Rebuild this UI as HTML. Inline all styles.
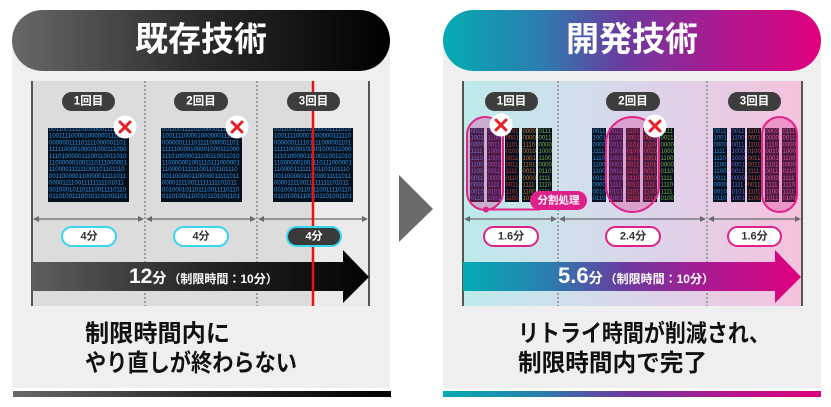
<!DOCTYPE html>
<html><head><meta charset="utf-8">
<style>
html,body{margin:0;padding:0;background:#fff;}
svg{display:block;}
text{font-family:"Liberation Sans","Noto Sans CJK JP",sans-serif;font-weight:bold;}
.bin{font-family:"Liberation Sans",sans-serif;font-weight:normal;font-size:6px;}
</style></head>
<body>
<svg width="831" height="407" viewBox="0 0 831 407" xmlns="http://www.w3.org/2000/svg">
<defs>
<linearGradient id="gDark" x1="0" x2="1" y1="0" y2="0">
<stop offset="0" stop-color="#686868"/><stop offset="0.5" stop-color="#2a2a2a"/><stop offset="1" stop-color="#000"/>
</linearGradient>
<linearGradient id="gArrowL" x1="0" x2="1" y1="0" y2="0">
<stop offset="0" stop-color="#5e5e5e"/><stop offset="0.5" stop-color="#262626"/><stop offset="1" stop-color="#030303"/>
</linearGradient>
<linearGradient id="gColor" x1="0" x2="1" y1="0" y2="0">
<stop offset="0" stop-color="#03abb3"/><stop offset="0.25" stop-color="#2a7fb0"/><stop offset="0.48" stop-color="#6c3a9f"/><stop offset="0.75" stop-color="#b0178f"/><stop offset="1" stop-color="#e0007e"/>
</linearGradient>
<linearGradient id="gInnerR" x1="0" x2="1" y1="0" y2="0">
<stop offset="0" stop-color="#bdeaea"/><stop offset="0.3" stop-color="#cfe0ea"/><stop offset="0.55" stop-color="#dcd3ea"/><stop offset="1" stop-color="#f6c2dd"/>
</linearGradient>
<clipPath id="c1"><rect x="48" y="128" width="81" height="74"/></clipPath>
<clipPath id="c2"><rect x="161" y="128" width="81" height="74"/></clipPath>
<clipPath id="c3"><rect x="273" y="128" width="80" height="74"/></clipPath>
</defs>

<!-- LEFT PANEL -->
<rect x="12" y="40" width="378" height="348" fill="#efefef"/>
<rect x="12" y="10" width="378" height="61" rx="30.5" fill="url(#gDark)"/>
<text x="201" y="40" font-size="34" fill="#fff" text-anchor="middle" dominant-baseline="central" textLength="132" lengthAdjust="spacingAndGlyphs">既存技術</text>

<rect x="32" y="81" width="337" height="225" fill="#dcdcdc"/>
<rect x="314" y="81" width="55" height="225" fill="#ebebeb"/>
<line x1="145" y1="81" x2="145" y2="306" stroke="#8a8a8a" stroke-width="1.5" stroke-dasharray="2 2"/>
<line x1="257" y1="81" x2="257" y2="306" stroke="#8a8a8a" stroke-width="1.5" stroke-dasharray="2 2"/>
<line x1="32" y1="81" x2="32" y2="306" stroke="#555" stroke-width="2"/>
<line x1="369" y1="81" x2="369" y2="306" stroke="#555" stroke-width="2"/>

<!-- labels -->
<rect x="62" y="92" width="53" height="19" rx="9.5" fill="#3d3d3d"/>
<text x="88.5" y="101.5" font-size="11.5" fill="#fff" text-anchor="middle" dominant-baseline="central">1回目</text>
<rect x="174" y="92" width="54" height="19" rx="9.5" fill="#3d3d3d"/>
<text x="201" y="101.5" font-size="11.5" fill="#fff" text-anchor="middle" dominant-baseline="central">2回目</text>

<!-- binary blocks -->
<g clip-path="url(#c1)">
<rect x="48" y="128" width="81" height="74" fill="#06101e"/>
<text class="bin" fill="#2b95e6">
<tspan x="49" y="131">001100111101000001111010</tspan>
<tspan x="49" y="137.7">100111100001000000111110</tspan>
<tspan x="49" y="144.4">000000111101111000001101</tspan>
<tspan x="49" y="151.1">111110000100001000111000</tspan>
<tspan x="49" y="157.8">111010000011100110011010</tspan>
<tspan x="49" y="164.5">110000001001110111000001</tspan>
<tspan x="49" y="171.2">110000111111001101101110</tspan>
<tspan x="49" y="177.9">001100000110000011111011</tspan>
<tspan x="49" y="184.6">000011110011111111101011</tspan>
<tspan x="49" y="191.3">001000101101110011110110</tspan>
<tspan x="49" y="198">011010011100101101001101</tspan>
</text>
</g>
<g clip-path="url(#c2)">
<rect x="161" y="128" width="81" height="74" fill="#06101e"/>
<text class="bin" fill="#2b95e6">
<tspan x="162" y="131">001100111101000001111010</tspan>
<tspan x="162" y="137.7">100111100001000000111110</tspan>
<tspan x="162" y="144.4">000000111101111000001101</tspan>
<tspan x="162" y="151.1">111110000100001000111000</tspan>
<tspan x="162" y="157.8">111010000011100110011010</tspan>
<tspan x="162" y="164.5">110000001001110111000001</tspan>
<tspan x="162" y="171.2">110000111111001101101110</tspan>
<tspan x="162" y="177.9">001100000110000011111011</tspan>
<tspan x="162" y="184.6">000011110011111111101011</tspan>
<tspan x="162" y="191.3">001000101101110011110110</tspan>
<tspan x="162" y="198">011010011100101101001101</tspan>
</text>
</g>
<g clip-path="url(#c3)">
<rect x="273" y="128" width="80" height="74" fill="#06101e"/>
<text class="bin" fill="#2b95e6">
<tspan x="274" y="131">001100111101000001111010</tspan>
<tspan x="274" y="137.7">100111100001000000111110</tspan>
<tspan x="274" y="144.4">000000111101111000001101</tspan>
<tspan x="274" y="151.1">111110000100001000111000</tspan>
<tspan x="274" y="157.8">111010000011100110011010</tspan>
<tspan x="274" y="164.5">110000001001110111000001</tspan>
<tspan x="274" y="171.2">110000111111001101101110</tspan>
<tspan x="274" y="177.9">001100000110000011111011</tspan>
<tspan x="274" y="184.6">000011110011111111101011</tspan>
<tspan x="274" y="191.3">001000101101110011110110</tspan>
<tspan x="274" y="198">011010011100101101001101</tspan>
</text>
</g>

<!-- X marks left -->
<circle cx="125" cy="127" r="11.5" fill="#fff"/>
<path d="M120 122 L130 132 M130 122 L120 132" stroke="#e8202a" stroke-width="3" stroke-linecap="round"/>
<circle cx="237" cy="127" r="11.5" fill="#fff"/>
<path d="M232 122 L242 132 M242 122 L232 132" stroke="#e8202a" stroke-width="3" stroke-linecap="round"/>

<!-- dimension arrows left -->
<g stroke="#6a6a6a" stroke-width="1.3" fill="#6a6a6a">
<line x1="36" y1="219" x2="141" y2="219"/>
<polygon points="33,219 39,216 39,222" stroke="none"/>
<polygon points="144,219 138,216 138,222" stroke="none"/>
<line x1="149" y1="219" x2="253" y2="219"/>
<polygon points="146,219 152,216 152,222" stroke="none"/>
<polygon points="256,219 250,216 250,222" stroke="none"/>
<line x1="261" y1="219" x2="365" y2="219"/>
<polygon points="258,219 264,216 264,222" stroke="none"/>
<polygon points="368,219 362,216 362,222" stroke="none"/>
</g>

<!-- big arrow left -->
<polygon points="32,262 343,262 343,250 369,277 343,303 343,291 32,291" fill="url(#gArrowL)"/>

<!-- red line -->
<line x1="313" y1="81" x2="313" y2="306" stroke="#e41414" stroke-width="2.5"/>

<rect x="287" y="92" width="53" height="19" rx="9.5" fill="#3d3d3d"/>
<text x="313.5" y="101.5" font-size="11.5" fill="#fff" text-anchor="middle" dominant-baseline="central">3回目</text>

<!-- time pills left -->
<rect x="62" y="227" width="54" height="19" rx="9.5" fill="#fff" stroke="#35d6ee" stroke-width="2"/>
<text x="89" y="236.5" font-size="11" fill="#333" text-anchor="middle" dominant-baseline="central">4分</text>
<rect x="174" y="227" width="54" height="19" rx="9.5" fill="#fff" stroke="#35d6ee" stroke-width="2"/>
<text x="201" y="236.5" font-size="11" fill="#333" text-anchor="middle" dominant-baseline="central">4分</text>
<rect x="287" y="227" width="54" height="19" rx="9.5" fill="#3a3a3a" stroke="#35d6ee" stroke-width="2"/>
<text x="314" y="236.5" font-size="11" fill="#fff" text-anchor="middle" dominant-baseline="central">4分</text>

<text x="129" y="283" fill="#fff"><tspan font-size="21">12</tspan><tspan font-size="14">分</tspan><tspan font-size="12" dx="2">（制限時間：10分）</tspan></text>

<text x="85" y="341.5" font-size="24" fill="#111" textLength="145" lengthAdjust="spacingAndGlyphs">制限時間内に</text>
<text x="85" y="371" font-size="24" fill="#111" textLength="212" lengthAdjust="spacingAndGlyphs">やり直しが終わらない</text>

<rect x="13" y="391" width="378" height="6" fill="url(#gDark)"/>

<!-- center triangle -->
<polygon points="399,175 433,209 399,242" fill="#6b6b6b"/>

<!-- RIGHT PANEL -->
<rect x="443" y="40" width="378" height="348" fill="#efefef"/>
<rect x="443" y="10" width="378" height="61" rx="30.5" fill="url(#gColor)"/>
<text x="632" y="40" font-size="34" fill="#fff" text-anchor="middle" dominant-baseline="central" textLength="132" lengthAdjust="spacingAndGlyphs">開発技術</text>

<rect x="463" y="81" width="339" height="225" fill="url(#gInnerR)"/>
<line x1="558" y1="81" x2="558" y2="306" stroke="#8a8a8a" stroke-width="1.5" stroke-dasharray="2 2"/>
<line x1="707" y1="81" x2="707" y2="306" stroke="#8a8a8a" stroke-width="1.5" stroke-dasharray="2 2"/>
<line x1="463" y1="81" x2="463" y2="306" stroke="#555" stroke-width="2"/>
<line x1="802" y1="81" x2="802" y2="306" stroke="#555" stroke-width="2"/>

<rect x="485" y="92" width="53" height="19" rx="9.5" fill="#3d3d3d"/>
<text x="511.5" y="101.5" font-size="11.5" fill="#fff" text-anchor="middle" dominant-baseline="central">1回目</text>
<rect x="606" y="92" width="54" height="19" rx="9.5" fill="#3d3d3d"/>
<text x="633" y="101.5" font-size="11.5" fill="#fff" text-anchor="middle" dominant-baseline="central">2回目</text>
<rect x="728" y="92" width="53" height="19" rx="9.5" fill="#3d3d3d"/>
<text x="754.5" y="101.5" font-size="11.5" fill="#fff" text-anchor="middle" dominant-baseline="central">3回目</text>

<!-- columns seg1 -->
<g>
<rect x="470" y="128" width="14" height="74" fill="#06101e"/>
<rect x="487" y="128" width="14" height="74" fill="#06101e"/>
<rect x="505" y="128" width="14" height="74" fill="#06101e"/>
<rect x="522" y="128" width="14" height="74" fill="#06101e"/>
<rect x="538" y="128" width="14" height="74" fill="#06101e"/>
<rect x="592" y="128" width="14" height="74" fill="#06101e"/>
<rect x="609" y="128" width="14" height="74" fill="#06101e"/>
<rect x="626" y="128" width="14" height="74" fill="#06101e"/>
<rect x="643" y="128" width="14" height="74" fill="#06101e"/>
<rect x="660" y="128" width="14" height="74" fill="#06101e"/>
<rect x="713" y="128" width="14" height="74" fill="#06101e"/>
<rect x="731" y="128" width="14" height="74" fill="#06101e"/>
<rect x="747" y="128" width="14" height="74" fill="#06101e"/>
<rect x="765" y="128" width="14" height="74" fill="#06101e"/>
<rect x="782" y="128" width="14" height="74" fill="#06101e"/>
</g>
<text class="bin" fill="#2f8fe0"><tspan x="470.5" y="133">0011</tspan><tspan x="470.5" y="139.7">1001</tspan><tspan x="470.5" y="146.4">0000</tspan><tspan x="470.5" y="153.1">1111</tspan><tspan x="470.5" y="159.8">1110</tspan><tspan x="470.5" y="166.5">1100</tspan><tspan x="470.5" y="173.2">1100</tspan><tspan x="470.5" y="179.9">0011</tspan><tspan x="470.5" y="186.6">0000</tspan><tspan x="470.5" y="193.3">0010</tspan><tspan x="470.5" y="200">0110</tspan></text>
<text class="bin" fill="#7a52c8"><tspan x="487.5" y="133">0011</tspan><tspan x="487.5" y="139.7">1100</tspan><tspan x="487.5" y="146.4">0011</tspan><tspan x="487.5" y="153.1">1000</tspan><tspan x="487.5" y="159.8">1000</tspan><tspan x="487.5" y="166.5">0001</tspan><tspan x="487.5" y="173.2">0011</tspan><tspan x="487.5" y="179.9">0000</tspan><tspan x="487.5" y="186.6">1111</tspan><tspan x="487.5" y="193.3">0101</tspan><tspan x="487.5" y="200">1001</tspan></text>
<text class="bin" fill="#c43a2a"><tspan x="505.5" y="133">1101</tspan><tspan x="505.5" y="139.7">0001</tspan><tspan x="505.5" y="146.4">1101</tspan><tspan x="505.5" y="153.1">0100</tspan><tspan x="505.5" y="159.8">0011</tspan><tspan x="505.5" y="166.5">0011</tspan><tspan x="505.5" y="173.2">1111</tspan><tspan x="505.5" y="179.9">0110</tspan><tspan x="505.5" y="186.6">0011</tspan><tspan x="505.5" y="193.3">1101</tspan><tspan x="505.5" y="200">1100</tspan></text>
<text class="bin" fill="#c87a2a"><tspan x="522.5" y="133">0000</tspan><tspan x="522.5" y="139.7">0000</tspan><tspan x="522.5" y="146.4">1110</tspan><tspan x="522.5" y="153.1">0010</tspan><tspan x="522.5" y="159.8">1001</tspan><tspan x="522.5" y="166.5">1101</tspan><tspan x="522.5" y="173.2">0011</tspan><tspan x="522.5" y="179.9">0000</tspan><tspan x="522.5" y="186.6">1111</tspan><tspan x="522.5" y="193.3">1100</tspan><tspan x="522.5" y="200">1011</tspan></text>
<text class="bin" fill="#7ab040"><tspan x="538.5" y="133">0111</tspan><tspan x="538.5" y="139.7">0011</tspan><tspan x="538.5" y="146.4">0000</tspan><tspan x="538.5" y="153.1">1000</tspan><tspan x="538.5" y="159.8">1100</tspan><tspan x="538.5" y="166.5">0000</tspan><tspan x="538.5" y="173.2">0110</tspan><tspan x="538.5" y="179.9">1111</tspan><tspan x="538.5" y="186.6">1110</tspan><tspan x="538.5" y="193.3">1111</tspan><tspan x="538.5" y="200">0100</tspan></text>

<text class="bin" fill="#2f8fe0"><tspan x="592.5" y="133">0011</tspan><tspan x="592.5" y="139.7">1001</tspan><tspan x="592.5" y="146.4">0000</tspan><tspan x="592.5" y="153.1">1111</tspan><tspan x="592.5" y="159.8">1110</tspan><tspan x="592.5" y="166.5">1100</tspan><tspan x="592.5" y="173.2">1100</tspan><tspan x="592.5" y="179.9">0011</tspan><tspan x="592.5" y="186.6">0000</tspan><tspan x="592.5" y="193.3">0010</tspan><tspan x="592.5" y="200">0110</tspan></text>
<text class="bin" fill="#7a52c8"><tspan x="609.5" y="133">0011</tspan><tspan x="609.5" y="139.7">1100</tspan><tspan x="609.5" y="146.4">0011</tspan><tspan x="609.5" y="153.1">1000</tspan><tspan x="609.5" y="159.8">1000</tspan><tspan x="609.5" y="166.5">0001</tspan><tspan x="609.5" y="173.2">0011</tspan><tspan x="609.5" y="179.9">0000</tspan><tspan x="609.5" y="186.6">1111</tspan><tspan x="609.5" y="193.3">0101</tspan><tspan x="609.5" y="200">1001</tspan></text>
<text class="bin" fill="#c43a2a"><tspan x="626.5" y="133">1101</tspan><tspan x="626.5" y="139.7">0001</tspan><tspan x="626.5" y="146.4">1101</tspan><tspan x="626.5" y="153.1">0100</tspan><tspan x="626.5" y="159.8">0011</tspan><tspan x="626.5" y="166.5">0011</tspan><tspan x="626.5" y="173.2">1111</tspan><tspan x="626.5" y="179.9">0110</tspan><tspan x="626.5" y="186.6">0011</tspan><tspan x="626.5" y="193.3">1101</tspan><tspan x="626.5" y="200">1100</tspan></text>
<text class="bin" fill="#c8502a"><tspan x="643.5" y="133">0000</tspan><tspan x="643.5" y="139.7">0000</tspan><tspan x="643.5" y="146.4">1110</tspan><tspan x="643.5" y="153.1">0010</tspan><tspan x="643.5" y="159.8">1001</tspan><tspan x="643.5" y="166.5">1101</tspan><tspan x="643.5" y="173.2">0011</tspan><tspan x="643.5" y="179.9">0000</tspan><tspan x="643.5" y="186.6">1111</tspan><tspan x="643.5" y="193.3">1100</tspan><tspan x="643.5" y="200">1011</tspan></text>
<text class="bin" fill="#7ab040"><tspan x="660.5" y="133">0111</tspan><tspan x="660.5" y="139.7">0011</tspan><tspan x="660.5" y="146.4">0000</tspan><tspan x="660.5" y="153.1">1000</tspan><tspan x="660.5" y="159.8">1100</tspan><tspan x="660.5" y="166.5">0000</tspan><tspan x="660.5" y="173.2">0110</tspan><tspan x="660.5" y="179.9">1111</tspan><tspan x="660.5" y="186.6">1110</tspan><tspan x="660.5" y="193.3">1111</tspan><tspan x="660.5" y="200">0100</tspan></text>

<text class="bin" fill="#2f8fe0"><tspan x="713.5" y="133">0011</tspan><tspan x="713.5" y="139.7">1001</tspan><tspan x="713.5" y="146.4">0000</tspan><tspan x="713.5" y="153.1">1111</tspan><tspan x="713.5" y="159.8">1110</tspan><tspan x="713.5" y="166.5">1100</tspan><tspan x="713.5" y="173.2">1100</tspan><tspan x="713.5" y="179.9">0011</tspan><tspan x="713.5" y="186.6">0000</tspan><tspan x="713.5" y="193.3">0010</tspan><tspan x="713.5" y="200">0110</tspan></text>
<text class="bin" fill="#6a62d0"><tspan x="731.5" y="133">0011</tspan><tspan x="731.5" y="139.7">1100</tspan><tspan x="731.5" y="146.4">0011</tspan><tspan x="731.5" y="153.1">1000</tspan><tspan x="731.5" y="159.8">1000</tspan><tspan x="731.5" y="166.5">0001</tspan><tspan x="731.5" y="173.2">0011</tspan><tspan x="731.5" y="179.9">0000</tspan><tspan x="731.5" y="186.6">1111</tspan><tspan x="731.5" y="193.3">0101</tspan><tspan x="731.5" y="200">1001</tspan></text>
<text class="bin" fill="#c44a3a"><tspan x="747.5" y="133">1101</tspan><tspan x="747.5" y="139.7">0001</tspan><tspan x="747.5" y="146.4">1101</tspan><tspan x="747.5" y="153.1">0100</tspan><tspan x="747.5" y="159.8">0011</tspan><tspan x="747.5" y="166.5">0011</tspan><tspan x="747.5" y="173.2">1111</tspan><tspan x="747.5" y="179.9">0110</tspan><tspan x="747.5" y="186.6">0011</tspan><tspan x="747.5" y="193.3">1101</tspan><tspan x="747.5" y="200">1100</tspan></text>
<text class="bin" fill="#d8608a"><tspan x="765.5" y="133">0000</tspan><tspan x="765.5" y="139.7">0000</tspan><tspan x="765.5" y="146.4">1110</tspan><tspan x="765.5" y="153.1">0010</tspan><tspan x="765.5" y="159.8">1001</tspan><tspan x="765.5" y="166.5">1101</tspan><tspan x="765.5" y="173.2">0011</tspan><tspan x="765.5" y="179.9">0000</tspan><tspan x="765.5" y="186.6">1111</tspan><tspan x="765.5" y="193.3">1100</tspan><tspan x="765.5" y="200">1011</tspan></text>
<text class="bin" fill="#d8608a"><tspan x="782.5" y="133">0111</tspan><tspan x="782.5" y="139.7">0011</tspan><tspan x="782.5" y="146.4">0000</tspan><tspan x="782.5" y="153.1">1000</tspan><tspan x="782.5" y="159.8">1100</tspan><tspan x="782.5" y="166.5">0000</tspan><tspan x="782.5" y="173.2">0110</tspan><tspan x="782.5" y="179.9">1111</tspan><tspan x="782.5" y="186.6">1110</tspan><tspan x="782.5" y="193.3">1111</tspan><tspan x="782.5" y="200">0100</tspan></text>

<!-- pink overlays -->
<rect x="467" y="117" width="36" height="93" rx="18" fill="rgba(225,50,150,0.32)" stroke="#e0248a" stroke-width="2"/>
<rect x="606" y="117" width="53" height="95" rx="26.5" fill="rgba(225,50,150,0.32)" stroke="#e0248a" stroke-width="2"/>
<rect x="762" y="117" width="35" height="95" rx="17.5" fill="rgba(225,50,150,0.32)" stroke="#e0248a" stroke-width="2"/>

<!-- 分割処理 -->
<line x1="486" y1="209.5" x2="540" y2="209.5" stroke="#e0248a" stroke-width="2"/>
<circle cx="486" cy="209.5" r="3" fill="#e0248a"/>
<rect x="530" y="191" width="57" height="19" rx="9.5" fill="#e0208a"/>
<text x="558.5" y="200.5" font-size="10.5" fill="#fff" text-anchor="middle" dominant-baseline="central">分割処理</text>

<!-- X marks right -->
<circle cx="501" cy="125" r="11.5" fill="#fff"/>
<path d="M496 120 L506 130 M506 120 L496 130" stroke="#e8202a" stroke-width="3" stroke-linecap="round"/>
<circle cx="655" cy="126" r="11.5" fill="#fff"/>
<path d="M650 121 L660 131 M660 121 L650 131" stroke="#e8202a" stroke-width="3" stroke-linecap="round"/>

<!-- dimension arrows right -->
<g stroke="#6a6a6a" stroke-width="1.3" fill="#6a6a6a">
<line x1="467" y1="219" x2="554" y2="219"/>
<polygon points="464,219 470,216 470,222" stroke="none"/>
<polygon points="557,219 551,216 551,222" stroke="none"/>
<line x1="562" y1="219" x2="703" y2="219"/>
<polygon points="559,219 565,216 565,222" stroke="none"/>
<polygon points="706,219 700,216 700,222" stroke="none"/>
<line x1="711" y1="219" x2="798" y2="219"/>
<polygon points="708,219 714,216 714,222" stroke="none"/>
<polygon points="801,219 795,216 795,222" stroke="none"/>
</g>

<rect x="484" y="227" width="54" height="19" rx="9.5" fill="#fff" stroke="#e0208a" stroke-width="2"/>
<text x="511" y="236.5" font-size="11" fill="#333" text-anchor="middle" dominant-baseline="central">1.6分</text>
<rect x="606" y="227" width="54" height="19" rx="9.5" fill="#fff" stroke="#e0208a" stroke-width="2"/>
<text x="633" y="236.5" font-size="11" fill="#333" text-anchor="middle" dominant-baseline="central">2.4分</text>
<rect x="728" y="227" width="53" height="19" rx="9.5" fill="#fff" stroke="#e0208a" stroke-width="2"/>
<text x="754.5" y="236.5" font-size="11" fill="#333" text-anchor="middle" dominant-baseline="central">1.6分</text>

<polygon points="463,262 775,262 775,250 801,277 775,303 775,291 463,291" fill="url(#gColor)"/>
<text x="558" y="283" fill="#fff"><tspan font-size="22">5.6</tspan><tspan font-size="14">分</tspan><tspan font-size="12" dx="2">（制限時間：10分）</tspan></text>

<text x="518" y="341.5" font-size="24" fill="#111" textLength="252" lengthAdjust="spacingAndGlyphs">リトライ時間が削減され、</text>
<text x="518" y="371" font-size="24" fill="#111" textLength="189" lengthAdjust="spacingAndGlyphs">制限時間内で完了</text>

<rect x="443" y="391" width="378" height="6" fill="url(#gColor)"/>
</svg>
</body></html>
